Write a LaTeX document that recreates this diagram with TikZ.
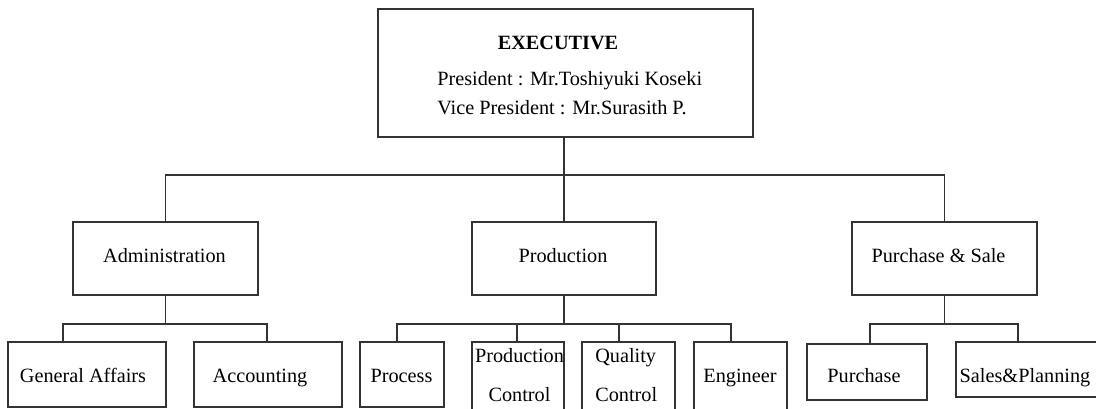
\documentclass[tikz,border=0pt]{standalone}
\usepackage{fontspec}
\setmainfont{Liberation Serif}
\begin{document}
\begin{tikzpicture}[x=0.75pt,y=-0.75pt,
  box/.style={draw=black!80,line width=0.8pt,inner sep=0pt,rectangle},
  wire/.style={draw=black!80,line width=0.8pt},
  txt/.style={anchor=base,inner sep=0pt,font=\fontsize{15.2}{18}\selectfont},
  txtl/.style={anchor=base west,inner sep=0pt,font=\fontsize{15.2}{18}\selectfont}]
\useasboundingbox (0,0) rectangle (1096,409);
\clip (0,0) rectangle (1096,409);
\fill[white] (0,0) rectangle (1096,409);
% boxes
\node[box,minimum width=281.25pt,minimum height=96pt] (exec) at (565.5,73) {};
\node[box,minimum width=138.75pt,minimum height=54.75pt] (admin) at (165.5,258.5) {};
\node[box,minimum width=138pt,minimum height=54.75pt] (prod) at (564,258.5) {};
\node[box,minimum width=138.75pt,minimum height=54.75pt] (purs) at (944.5,258.5) {};
\node[box,minimum width=118.5pt,minimum height=48.75pt] (ga) at (87,374.5) {};
\node[box,minimum width=111pt,minimum height=48.75pt] (acc) at (268,374.5) {};
\node[box,minimum width=63pt,minimum height=48.75pt] (proc) at (402,374.5) {};
\node[box,minimum width=69pt,minimum height=60pt] (pc) at (518,382) {};
\node[box,minimum width=69.75pt,minimum height=60pt] (qc) at (628.5,382) {};
\node[box,minimum width=69.75pt,minimum height=60pt] (eng) at (740.5,382) {};
\node[box,minimum width=90pt,minimum height=42pt] (pur) at (867,372) {};
\node[box,minimum width=108pt,minimum height=41.25pt] (sp) at (1028,369.5) {};
% texts
\node[txt,font=\fontsize{15.2}{18}\selectfont\bfseries] (t0) at (558,50) {EXECUTIVE};
\node[txtl] (t1) at (437,86) {President : Mr.Toshiyuki Koseki};
\node[txtl] (t2) at (437,115) {Vice President : Mr.Surasith P.};
\node[txt] (t3) at (164.5,263) {Administration};
\node[txt] (t4) at (563,263) {Production};
\node[txt] (t5) at (938.5,263) {Purchase \& Sale};
\node[txt] (t6) at (83,383) {General Affairs};
\node[txt] (t7) at (260,383) {Accounting};
\node[txt] (t8) at (401.5,383) {Process};
\node[txt] (t9) at (519.5,363) {Production};
\node[txt] (t10) at (519.5,402) {Control};
\node[txtl] (t11) at (595,363) {Quality};
\node[txtl] (t12) at (595,402) {Control};
\node[txt] (t13) at (740,383) {Engineer};
\node[txt] (t14) at (864,383) {Purchase};
\node[txt] (t15) at (1025,383) {Sales\&Planning};
% bus coordinates
\coordinate (bT) at (564,175);
\coordinate (bA) at (165.5,324);
\coordinate (bP) at (564,324);
\coordinate (bS) at (944.5,324);
\coordinate (dA1) at (63,324);
\coordinate (dA2) at (267,324);
\coordinate (dP1) at (397,324);
\coordinate (dP2) at (517,324);
\coordinate (dP3) at (619,324);
\coordinate (dP4) at (731,324);
\coordinate (dS1) at (870,324);
\coordinate (dS2) at (1018,324);
% connectors
\draw[wire] (bT |- exec.south) -- (bT);
\draw[wire] (admin.north) |- (bT) -| (purs.north);
\draw[wire] (bT) -- (prod.north);
\draw[wire] (admin.south) -- (bA);
\draw[wire] (dA1 |- ga.north) -- (dA1) -- (dA2) -- (dA2 |- acc.north);
\draw[wire] (prod.south) -- (bP);
\draw[wire] (dP1 |- proc.north) -- (dP1) -- (dP4) -- (dP4 |- eng.north);
\draw[wire] (dP2) -- (dP2 |- pc.north);
\draw[wire] (dP3) -- (dP3 |- qc.north);
\draw[wire] (purs.south) -- (bS);
\draw[wire] (dS1 |- pur.north) -- (dS1) -- (dS2) -- (dS2 |- sp.north);
\end{tikzpicture}
\end{document}
